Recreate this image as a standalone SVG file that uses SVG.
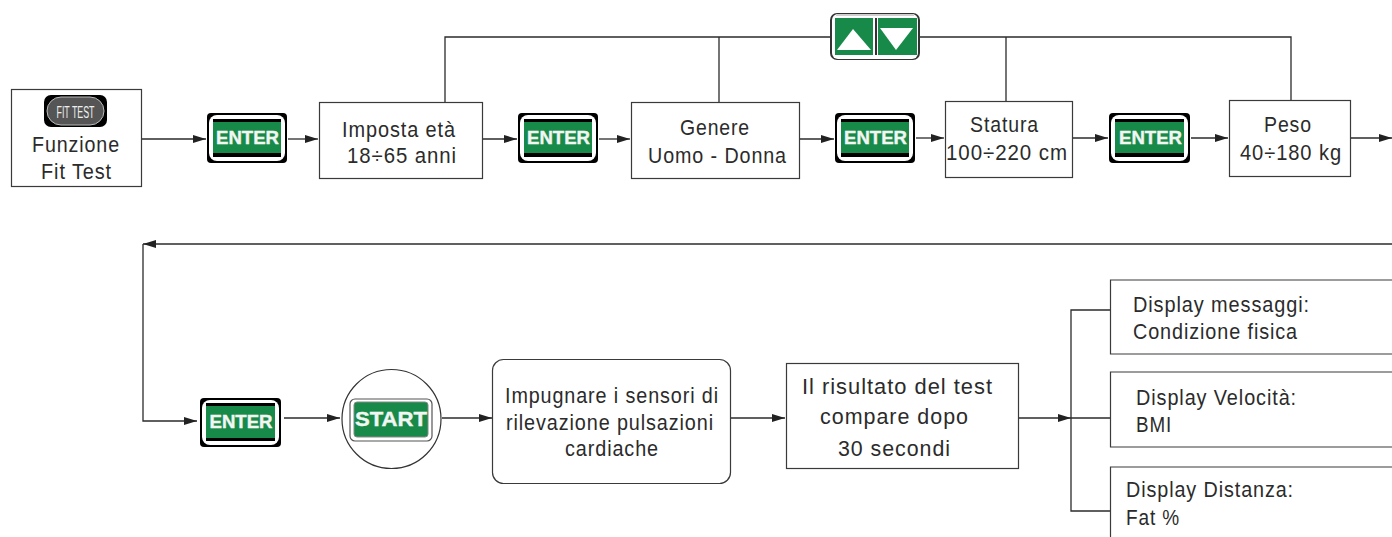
<svg xmlns="http://www.w3.org/2000/svg" width="1392" height="537" viewBox="0 0 1392 537">
<style>
.box{fill:#fff;stroke:#3a3a3a;stroke-width:1.2}
.t{font-family:"Liberation Sans",Arial,sans-serif;font-size:22px;letter-spacing:1px;fill:#2b2b2b}
.c{fill:none;stroke:#2b2b2b;stroke-width:1.3}
.bo{fill:#000}
.bw{fill:#fff}
.bg{fill:#178a49}
.bt{font-family:"Liberation Sans",Arial,sans-serif;font-weight:700;font-size:18px;fill:#f2f5f2;stroke:#f2f5f2;stroke-width:.4;text-anchor:middle}
</style>
<defs>
<marker id="a" markerUnits="userSpaceOnUse" markerWidth="14" markerHeight="10" refX="13" refY="4" orient="auto"><path d="M0 0L13 4L0 8Z" fill="#222"/></marker>
</defs>
<rect width="1392" height="537" fill="#fff"/>
<g id="connectors">
<path class="c" marker-end="url(#a)" d="M142 139H206"/>
<path class="c" marker-end="url(#a)" d="M288 139H318"/>
<path class="c" marker-end="url(#a)" d="M483 139H517"/>
<path class="c" marker-end="url(#a)" d="M599 139H630"/>
<path class="c" marker-end="url(#a)" d="M800 139H834"/>
<path class="c" marker-end="url(#a)" d="M916 138H944"/>
<path class="c" marker-end="url(#a)" d="M1073 138H1108"/>
<path class="c" marker-end="url(#a)" d="M1191 138H1228"/>
<path class="c" marker-end="url(#a)" d="M1351 138H1392"/>
<path class="c" d="M445 102V37H830M920 37H1291V100M719 37V102M1006 37V101"/>
<path class="c" marker-end="url(#a)" d="M1392 244H143"/>
<path class="c" marker-end="url(#a)" d="M143 244V421H197"/>
<path class="c" marker-end="url(#a)" d="M284 418H340"/>
<path class="c" marker-end="url(#a)" d="M442 418H492"/>
<path class="c" marker-end="url(#a)" d="M731 418H785"/>
<path class="c" marker-end="url(#a)" d="M1019 418H1071"/>
<path class="c" d="M1110 310H1071V511H1110M1071 418H1110"/>
</g>
<g id="fit-test"><rect class="box" x="11.500" y="89.500" width="130" height="97"/>
<rect x="44" y="95" width="63" height="32" rx="7" fill="#000"/>
<rect x="47" y="97" width="57" height="28" rx="14" fill="#555" stroke="#bbb" stroke-width="1"/>
<text x="75.500" y="118" font-family="'Liberation Sans',Arial,sans-serif" font-size="16" fill="#eee" text-anchor="middle" textLength="38" lengthAdjust="spacingAndGlyphs">FIT TEST</text>
<text class="t" x="32" y="152" textLength="88" lengthAdjust="spacingAndGlyphs">Funzione</text><text class="t" x="41" y="179" textLength="71" lengthAdjust="spacingAndGlyphs">Fit Test</text></g>
<g id="enter-1"><rect class="bo" x="207" y="113" width="80" height="50" rx="4"/><rect class="bw" x="209" y="115" width="76" height="46" rx="8"/><rect class="bo" x="213" y="119" width="68" height="38"/><rect class="bg" x="213" y="122" width="68" height="31"/><text class="bt" x="247.500" y="144" textLength="63" lengthAdjust="spacingAndGlyphs">ENTER</text></g>
<g id="eta"><rect class="box" x="319.500" y="102.500" width="163" height="76"/><text class="t" x="342" y="137" textLength="114" lengthAdjust="spacingAndGlyphs">Imposta età</text><text class="t" x="347" y="163" textLength="110" lengthAdjust="spacingAndGlyphs">18÷65 anni</text></g>
<g id="enter-2"><rect class="bo" x="518" y="113" width="80" height="50" rx="4"/><rect class="bw" x="520" y="115" width="76" height="46" rx="8"/><rect class="bo" x="524" y="119" width="68" height="38"/><rect class="bg" x="524" y="122" width="68" height="31"/><text class="bt" x="558.500" y="144" textLength="63" lengthAdjust="spacingAndGlyphs">ENTER</text></g>
<g id="genere"><rect class="box" x="631.500" y="102.500" width="168" height="76"/><text class="t" x="680" y="135" textLength="70" lengthAdjust="spacingAndGlyphs">Genere</text><text class="t" x="648" y="163" textLength="139" lengthAdjust="spacingAndGlyphs">Uomo - Donna</text></g>
<g id="enter-3"><rect class="bo" x="835" y="113" width="80" height="50" rx="4"/><rect class="bw" x="837" y="115" width="76" height="46" rx="8"/><rect class="bo" x="841" y="119" width="68" height="38"/><rect class="bg" x="841" y="122" width="68" height="31"/><text class="bt" x="875.500" y="144" textLength="63" lengthAdjust="spacingAndGlyphs">ENTER</text></g>
<g id="statura"><rect class="box" x="945.500" y="101.500" width="127" height="76"/><text class="t" x="970" y="132" textLength="69" lengthAdjust="spacingAndGlyphs">Statura</text><text class="t" x="946" y="160" textLength="122" lengthAdjust="spacingAndGlyphs">100÷220 cm</text></g>
<g id="enter-4"><rect class="bo" x="1109" y="113" width="81" height="50" rx="4"/><rect class="bw" x="1111" y="115" width="77" height="46" rx="8"/><rect class="bo" x="1115" y="119" width="69" height="38"/><rect class="bg" x="1115" y="122" width="69" height="31"/><text class="bt" x="1150.500" y="144" textLength="63" lengthAdjust="spacingAndGlyphs">ENTER</text></g>
<g id="peso"><rect class="box" x="1229.500" y="100.500" width="121" height="76"/><text class="t" x="1264" y="132" textLength="48" lengthAdjust="spacingAndGlyphs">Peso</text><text class="t" x="1240" y="160" textLength="102" lengthAdjust="spacingAndGlyphs">40÷180 kg</text></g>
<g id="su-giu"><rect x="830" y="13" width="90" height="47" rx="7" fill="#333"/><rect x="832" y="14" width="86" height="45" rx="6" fill="#fff"/><rect x="836" y="14" width="78" height="2" fill="#cfcfcf"/><rect class="bg" x="835" y="18" width="38" height="37"/><rect x="875" y="18" width="2" height="37" fill="#333"/><rect class="bg" x="878" y="18" width="39" height="37"/><path d="M853 29L871 50H837Z" fill="#fff"/><path d="M880 28H913L896 50Z" fill="#fff"/></g>
<g id="enter-5"><rect class="bo" x="200" y="398" width="81" height="49" rx="4"/><rect class="bw" x="202" y="400" width="77" height="45" rx="8"/><rect class="bo" x="206" y="403" width="69" height="38"/><rect class="bg" x="206" y="406" width="69" height="32"/><text class="bt" x="241" y="428" textLength="63" lengthAdjust="spacingAndGlyphs">ENTER</text></g>
<g id="start"><circle cx="391.500" cy="419" r="49.500" fill="#fff" stroke="#333" stroke-width="1.200"/><rect x="350" y="399" width="82" height="42" rx="5" fill="#fff" stroke="#555" stroke-width="1.200"/><rect x="354" y="402" width="74" height="35" rx="3" fill="#178a49" stroke="#888" stroke-width="1"/><text x="391" y="426" font-family="'Liberation Sans',Arial,sans-serif" font-weight="700" font-size="20" fill="#f2f5f2" stroke="#f2f5f2" stroke-width=".4" text-anchor="middle" textLength="72" lengthAdjust="spacingAndGlyphs">START</text></g>
<g id="sensori"><rect class="box" x="492.500" y="359.500" width="238" height="124" rx="11"/><text class="t" x="505" y="403" textLength="214" lengthAdjust="spacingAndGlyphs">Impugnare i sensori di</text><text class="t" x="506" y="430" textLength="208" lengthAdjust="spacingAndGlyphs">rilevazione pulsazioni</text><text class="t" x="565" y="456" textLength="94" lengthAdjust="spacingAndGlyphs">cardiache</text></g>
<g id="risultato"><rect class="box" x="786.500" y="363.500" width="232" height="105"/><text class="t" x="802" y="394" textLength="191" lengthAdjust="spacingAndGlyphs">Il risultato del test</text><text class="t" x="820" y="424" textLength="149" lengthAdjust="spacingAndGlyphs">compare dopo</text><text class="t" x="838" y="456" textLength="113" lengthAdjust="spacingAndGlyphs">30 secondi</text></g>
<g id="display-messaggi"><path class="box" d="M1392 280H1110.500V354H1392"/><text class="t" x="1133" y="312" textLength="177" lengthAdjust="spacingAndGlyphs">Display messaggi:</text><text class="t" x="1133" y="339" textLength="165" lengthAdjust="spacingAndGlyphs">Condizione fisica</text></g>
<g id="display-velocita"><path class="box" d="M1392 372H1110.500V447H1392"/><text class="t" x="1136" y="405" textLength="161" lengthAdjust="spacingAndGlyphs">Display Velocità:</text><text class="t" x="1136" y="432" textLength="36" lengthAdjust="spacingAndGlyphs">BMI</text></g>
<g id="display-distanza"><path class="box" d="M1392 467H1110.500V537"/><text class="t" x="1126" y="497" textLength="168" lengthAdjust="spacingAndGlyphs">Display Distanza:</text><text class="t" x="1126" y="525" textLength="54" lengthAdjust="spacingAndGlyphs">Fat %</text></g>
</svg>
